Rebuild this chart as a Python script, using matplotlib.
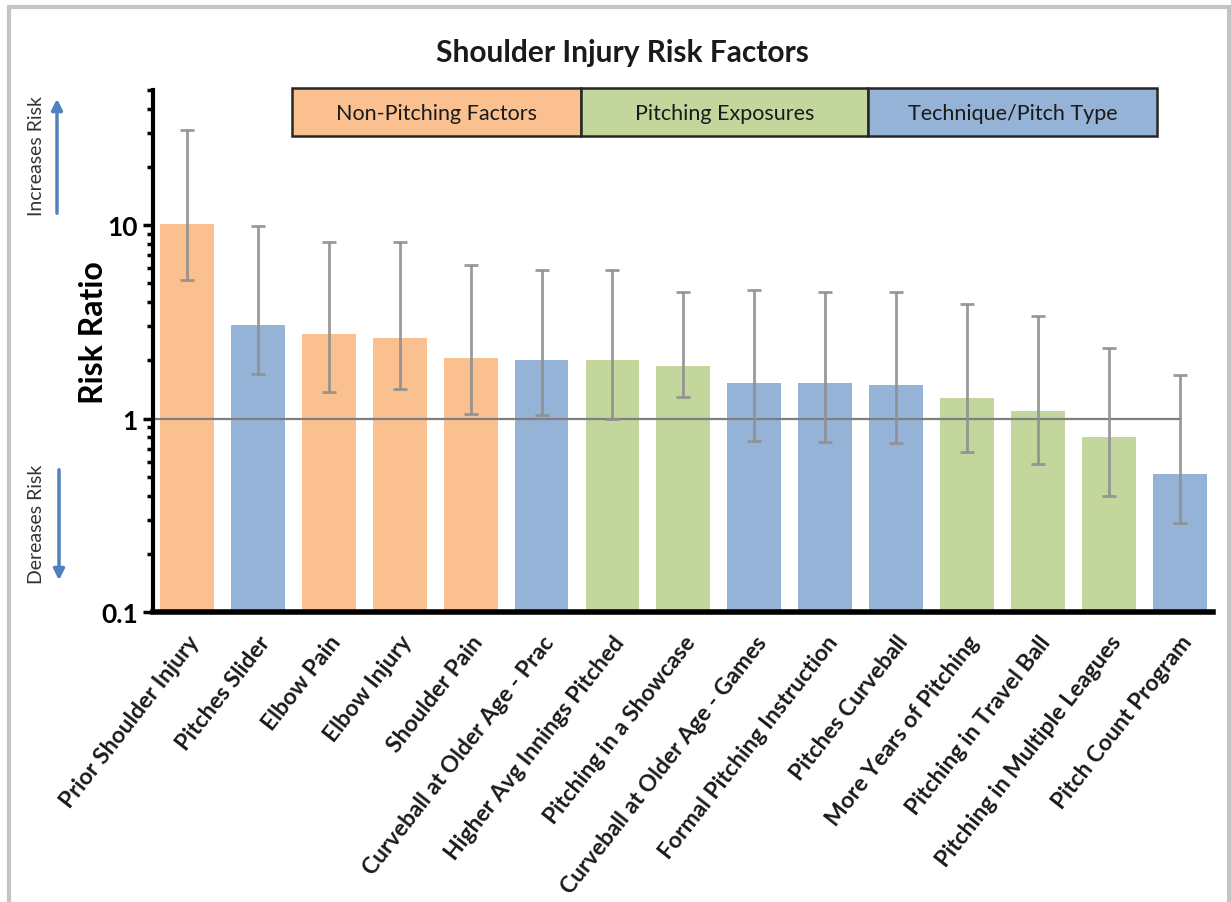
import numpy as np
import matplotlib.pyplot as plt
from matplotlib.patches import Rectangle, FancyArrowPatch
from matplotlib.ticker import FixedLocator, NullFormatter

plt.rcParams['font.family'] = ['Lato', 'DejaVu Sans']

# data
factors = ["Prior Shoulder Injury", "Pitches Slider", "Elbow Pain", "Elbow Injury",
           "Shoulder Pain", "Curveball at Older Age - Prac", "Higher Avg Innings Pitched",
           "Pitching in a Showcase", "Curveball at Older Age - Games",
           "Formal Pitching Instruction", "Pitches Curveball", "More Years of Pitching",
           "Pitching in Travel Ball", "Pitching in Multiple Leagues", "Pitch Count Program"]
groups = ["N", "T", "N", "N", "N", "T", "P", "P", "T", "T", "T", "P", "P", "P", "T"]
risk_ratio = [10.2, 3.05, 2.73, 2.61, 2.06, 2.01, 2.0, 1.88, 1.52, 1.52, 1.49, 1.28, 1.10, 0.80, 0.52]
ci_low = [5.2, 1.71, 1.38, 1.43, 1.06, 1.04, 1.0, 1.30, 0.77, 0.76, 0.75, 0.67, 0.58, 0.40, 0.29]
ci_high = [31.1, 9.9, 8.2, 8.2, 6.2, 5.9, 5.9, 4.5, 4.6, 4.5, 4.5, 3.9, 3.4, 2.33, 1.69]

group_names = {"N": "Non-Pitching Factors", "P": "Pitching Exposures", "T": "Technique/Pitch Type"}
group_colors = {"N": "#FAC090", "P": "#C3D69B", "T": "#95B3D7"}

fig = plt.figure(figsize=(12.31, 9.03), dpi=100)
ax = fig.add_axes([153/1231, 1 - 613/903, (1213 - 153)/1231, (613 - 91)/903])

x = np.arange(len(factors))
vals = np.array(risk_ratio)
lo = np.array(ci_low)
hi = np.array(ci_high)

ax.set_yscale('log')
ax.bar(x, vals, width=0.76, color=[group_colors[g] for g in groups], zorder=1)
ax.errorbar(x, vals, yerr=[vals - lo, hi - vals], fmt='none', ecolor='#8f8f8f',
            elinewidth=2, capsize=5, capthick=2, alpha=0.9, zorder=3)
# reference line at RR = 1
ax.plot([-0.48, x[-1]], [1, 1], color='#7f7f7f', lw=1.6, zorder=2)

ax.set_xlim(-0.48, len(factors) - 0.53)
ax.set_ylim(0.1, 50)
ax.set_yticks([0.1, 1, 10])
ax.set_yticklabels(['0.1', '1', '10'], fontsize=19, fontweight='bold')
minor = [m * d for d in [0.1, 1] for m in range(2, 10)] + [20, 30, 40, 50]
ax.yaxis.set_minor_locator(FixedLocator(minor))
ax.yaxis.set_minor_formatter(NullFormatter())
ax.tick_params(axis='y', which='major', length=7, width=2.5, pad=4)
ax.tick_params(axis='y', which='minor', length=4, width=2.5)
ax.tick_params(axis='x', length=0, pad=14)
ax.set_xticks(x)
ax.set_xticklabels(factors, rotation=52, ha='right', va='top', rotation_mode='anchor',
                   fontsize=16.5, fontweight='bold', color='#1a1a1a')

for s in ['top', 'right']:
    ax.spines[s].set_visible(False)
ax.spines['left'].set_linewidth(3)
ax.spines['bottom'].set_linewidth(4)

fig.text(94/1231, 1 - 333/903, 'Risk Ratio', rotation=90, fontsize=23,
         fontweight='bold', ha='center', va='center')

fig.text(622/1231, 1 - 53/903, 'Shoulder Injury Risk Factors', fontsize=21.5,
         fontweight='bold', ha='center', va='center', color='#1a1a1a')

# category key boxes along the top
box_edges = [292, 581, 868, 1157]
for i, g in enumerate(["N", "P", "T"]):
    x0 = box_edges[i] / 1231
    w = (box_edges[i + 1] - box_edges[i]) / 1231
    fig.patches.append(Rectangle((x0, 1 - 137/903), w, 48/903, transform=fig.transFigure,
                                 facecolor=group_colors[g], edgecolor='#262626', lw=1.8))
    fig.text(x0 + w / 2, 1 - 114/903, group_names[g], fontsize=15.5, ha='center',
             va='center', color='#1a1a1a')

# direction hints
fig.text(37/1231, 1 - 156/903, 'Increases Risk', rotation=90, fontsize=14,
         ha='center', va='center', color='#333333')
fig.text(37/1231, 1 - 524/903, 'Dereases Risk', rotation=90, fontsize=14,
         ha='center', va='center', color='#333333')
fig.patches.append(FancyArrowPatch(
    (57/1231, 1 - 217/903), (57/1231, 1 - 97/903), transform=fig.transFigure,
    arrowstyle='-|>', mutation_scale=16, color='#4F81BD', lw=2.5))
fig.patches.append(FancyArrowPatch(
    (59/1231, 1 - 468/903), (59/1231, 1 - 584/903), transform=fig.transFigure,
    arrowstyle='-|>', mutation_scale=16, color='#4F81BD', lw=2.5))

# outer frame
fig.patches.append(Rectangle((9/1231, -0.05), 1220/1231, 1.05 - 8/903,
                             transform=fig.transFigure, fill=False,
                             edgecolor='#c4c4c4', lw=3))

fig.savefig('out.png', dpi=100)
